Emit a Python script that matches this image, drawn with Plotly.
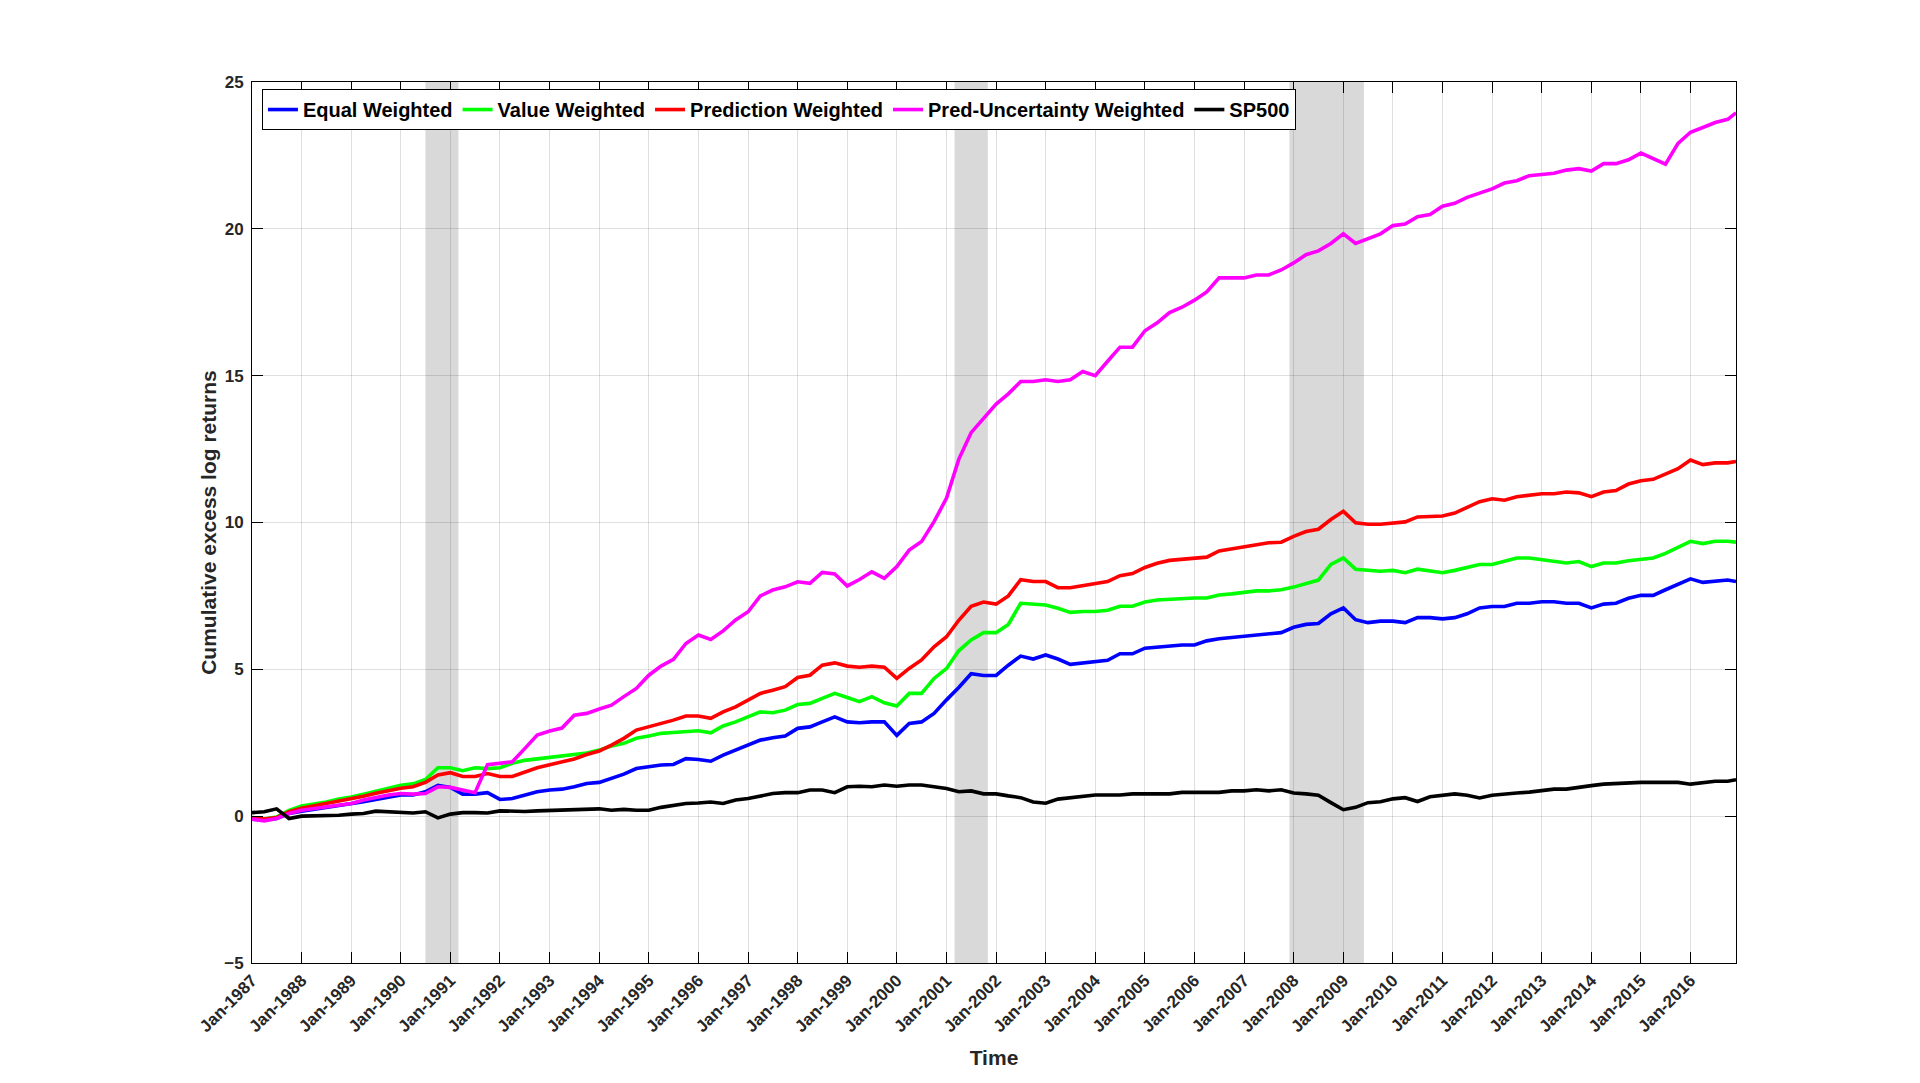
import pandas as pd
import plotly.graph_objects as go

# quarterly observations Jan/Apr/Jul/Oct 1987-2016, plus the last month (Dec 2016)
dates = list(pd.date_range("1987-01-01", "2016-10-01", freq="QS")) + [pd.Timestamp("2016-12-01")]

equal_weighted = [
    -0.10, -0.14, -0.08, 0.09,   # 1987
    0.17, 0.23, 0.28, 0.34,      # 1988
    0.41, 0.49, 0.57, 0.66,      # 1989
    0.72, 0.72, 0.83, 1.05,      # 1990
    0.98, 0.75, 0.75, 0.80,      # 1991
    0.57, 0.60, 0.72, 0.83,      # 1992
    0.89, 0.92, 1.00, 1.11,      # 1993
    1.15, 1.28, 1.43, 1.62,      # 1994
    1.68, 1.74, 1.76, 1.96,      # 1995
    1.93, 1.87, 2.08, 2.25,      # 1996
    2.42, 2.59, 2.67, 2.73,      # 1997
    2.99, 3.04, 3.21, 3.38,      # 1998
    3.21, 3.18, 3.21, 3.21,      # 1999
    2.75, 3.16, 3.21, 3.50,      # 2000
    3.96, 4.38, 4.85, 4.79,      # 2001
    4.79, 5.14, 5.45, 5.35,      # 2002
    5.49, 5.35, 5.17, 5.21,      # 2003
    5.25, 5.31, 5.53, 5.53,      # 2004
    5.72, 5.76, 5.81, 5.83,      # 2005
    5.83, 5.97, 6.04, 6.08,      # 2006
    6.14, 6.18, 6.22, 6.25,      # 2007
    6.43, 6.53, 6.56, 6.89,      # 2008
    7.09, 6.69, 6.59, 6.64,      # 2009
    6.64, 6.59, 6.76, 6.76,      # 2010
    6.72, 6.76, 6.89, 7.09,      # 2011
    7.14, 7.14, 7.25, 7.25,      # 2012
    7.30, 7.30, 7.25, 7.25,      # 2013
    7.09, 7.22, 7.25, 7.42,      # 2014
    7.52, 7.52, 7.71, 7.88,      # 2015
    8.08, 7.96, 8.01, 8.04,      # 2016
    7.99,
]

value_weighted = [
    -0.05, -0.10, -0.03, 0.20,   # 1987
    0.35, 0.40, 0.48, 0.58,      # 1988
    0.65, 0.75, 0.85, 0.95,      # 1989
    1.05, 1.10, 1.25, 1.65,      # 1990
    1.65, 1.55, 1.65, 1.62,      # 1991
    1.65, 1.80, 1.90, 1.95,      # 1992
    2.00, 2.05, 2.10, 2.15,      # 1993
    2.25, 2.39, 2.48, 2.65,      # 1994
    2.73, 2.82, 2.85, 2.87,      # 1995
    2.91, 2.84, 3.07, 3.21,      # 1996
    3.38, 3.55, 3.52, 3.61,      # 1997
    3.80, 3.84, 4.01, 4.18,      # 1998
    4.04, 3.90, 4.07, 3.86,      # 1999
    3.75, 4.18, 4.18, 4.69,      # 2000
    5.03, 5.63, 6.00, 6.25,      # 2001
    6.25, 6.53, 7.25, 7.22,      # 2002
    7.19, 7.08, 6.94, 6.97,      # 2003
    6.97, 7.01, 7.15, 7.15,      # 2004
    7.29, 7.36, 7.39, 7.39,      # 2005
    7.43, 7.43, 7.53, 7.57,      # 2006
    7.61, 7.67, 7.67, 7.71,      # 2007
    7.80, 7.91, 8.04, 8.57,      # 2008
    8.79, 8.41, 8.37, 8.34,      # 2009
    8.37, 8.29, 8.41, 8.34,      # 2010
    8.29, 8.37, 8.46, 8.57,      # 2011
    8.57, 8.67, 8.79, 8.79,      # 2012
    8.74, 8.67, 8.62, 8.67,      # 2013
    8.50, 8.62, 8.62, 8.70,      # 2014
    8.74, 8.79, 8.95, 9.16,      # 2015
    9.36, 9.28, 9.36, 9.36,      # 2016
    9.33,
]

prediction_weighted = [
    -0.05, -0.10, -0.05, 0.15,   # 1987
    0.27, 0.35, 0.42, 0.50,      # 1988
    0.58, 0.68, 0.78, 0.88,      # 1989
    0.95, 1.00, 1.15, 1.40,      # 1990
    1.48, 1.35, 1.35, 1.45,      # 1991
    1.35, 1.35, 1.50, 1.65,      # 1992
    1.75, 1.85, 1.95, 2.10,      # 1993
    2.22, 2.42, 2.65, 2.93,      # 1994
    3.04, 3.16, 3.27, 3.41,      # 1995
    3.41, 3.33, 3.55, 3.72,      # 1996
    3.97, 4.18, 4.29, 4.41,      # 1997
    4.72, 4.80, 5.14, 5.22,      # 1998
    5.11, 5.07, 5.11, 5.07,      # 1999
    4.69, 5.03, 5.32, 5.77,      # 2000
    6.11, 6.67, 7.15, 7.29,      # 2001
    7.22, 7.50, 8.05, 7.99,      # 2002
    7.99, 7.78, 7.78, 7.85,      # 2003
    7.92, 7.99, 8.19, 8.26,      # 2004
    8.47, 8.61, 8.71, 8.75,      # 2005
    8.78, 8.82, 9.03, 9.10,      # 2006
    9.17, 9.24, 9.31, 9.33,      # 2007
    9.53, 9.69, 9.77, 10.10,     # 2008
    10.38, 9.99, 9.94, 9.94,     # 2009
    9.99, 10.02, 10.19, 10.22,   # 2010
    10.22, 10.32, 10.52, 10.71,  # 2011
    10.81, 10.76, 10.88, 10.93,  # 2012
    10.98, 10.98, 11.04, 11.01,  # 2013
    10.88, 11.04, 11.09, 11.31,  # 2014
    11.42, 11.47, 11.64, 11.83,  # 2015
    12.13, 11.97, 12.03, 12.03,  # 2016
    12.08,
]

pred_uncertainty_weighted = [
    -0.10, -0.16, -0.08, 0.09,   # 1987
    0.20, 0.26, 0.32, 0.40,      # 1988
    0.43, 0.55, 0.64, 0.72,      # 1989
    0.77, 0.75, 0.77, 1.00,      # 1990
    0.98, 0.90, 0.80, 1.75,      # 1991
    1.80, 1.85, 2.30, 2.76,      # 1992
    2.90, 3.00, 3.44, 3.50,      # 1993
    3.65, 3.78, 4.07, 4.35,      # 1994
    4.80, 5.11, 5.34, 5.88,      # 1995
    6.17, 6.02, 6.31, 6.68,      # 1996
    6.96, 7.50, 7.70, 7.81,      # 1997
    7.98, 7.93, 8.30, 8.25,      # 1998
    7.84, 8.06, 8.32, 8.10,      # 1999
    8.50, 9.06, 9.35, 10.03,     # 2000
    10.83, 12.15, 13.06, 13.54,  # 2001
    14.03, 14.38, 14.80, 14.80,  # 2002
    14.86, 14.80, 14.86, 15.14,  # 2003
    15.00, 15.49, 15.97, 15.97,  # 2004
    16.53, 16.80, 17.15, 17.33,  # 2005
    17.57, 17.85, 18.33, 18.33,  # 2006
    18.33, 18.43, 18.43, 18.60,  # 2007
    18.84, 19.12, 19.25, 19.50,  # 2008
    19.83, 19.50, 19.66, 19.83,  # 2009
    20.11, 20.16, 20.41, 20.49,  # 2010
    20.77, 20.87, 21.07, 21.23,  # 2011
    21.36, 21.56, 21.64, 21.81,  # 2012
    21.86, 21.89, 22.00, 22.05,  # 2013
    21.97, 22.22, 22.22, 22.35,  # 2014
    22.58, 22.38, 22.20, 22.91,  # 2015
    23.29, 23.45, 23.62, 23.73,  # 2016
    23.95,
]

sp500 = [
    0.12, 0.15, 0.25, -0.08,     # 1987
    0.00, 0.00, 0.02, 0.03,      # 1988
    0.07, 0.09, 0.17, 0.15,      # 1989
    0.11, 0.11, 0.15, -0.06,     # 1990
    0.07, 0.12, 0.12, 0.11,      # 1991
    0.18, 0.16, 0.16, 0.18,      # 1992
    0.20, 0.20, 0.23, 0.25,      # 1993
    0.25, 0.20, 0.23, 0.20,      # 1994
    0.20, 0.30, 0.37, 0.43,      # 1995
    0.45, 0.48, 0.43, 0.55,      # 1996
    0.60, 0.68, 0.77, 0.80,      # 1997
    0.80, 0.89, 0.89, 0.80,      # 1998
    1.00, 1.02, 1.00, 1.06,      # 1999
    1.02, 1.06, 1.06, 1.00,      # 2000
    0.94, 0.83, 0.86, 0.76,      # 2001
    0.76, 0.69, 0.63, 0.48,      # 2002
    0.44, 0.58, 0.63, 0.67,      # 2003
    0.72, 0.72, 0.72, 0.76,      # 2004
    0.76, 0.76, 0.76, 0.81,      # 2005
    0.81, 0.83, 0.81, 0.86,      # 2006
    0.86, 0.90, 0.86, 0.90,      # 2007
    0.79, 0.76, 0.71, 0.46,      # 2008
    0.22, 0.30, 0.46, 0.49,      # 2009
    0.59, 0.63, 0.50, 0.66,      # 2010
    0.71, 0.76, 0.71, 0.62,      # 2011
    0.71, 0.76, 0.79, 0.82,      # 2012
    0.87, 0.92, 0.92, 0.99,      # 2013
    1.04, 1.09, 1.12, 1.15,      # 2014
    1.15, 1.15, 1.15, 1.15,      # 2015
    1.09, 1.15, 1.19, 1.19,      # 2016
    1.24,
]

series_names = ["Equal Weighted", "Value Weighted", "Prediction Weighted",
                "Pred-Uncertainty Weighted", "SP500"]
series_values = [equal_weighted, value_weighted, prediction_weighted,
                 pred_uncertainty_weighted, sp500]
series_colors = ["#0000ff", "#00ff00", "#ff0000", "#ff00ff", "#000000"]

# NBER recessions shaded in grey
recessions = [("1990-07-01", "1991-03-01"),
              ("2001-03-01", "2001-11-01"),
              ("2007-12-01", "2009-06-01")]

font_family = "Arial, Liberation Sans, Helvetica, sans-serif"

fig = go.Figure()
for name, vals, col in zip(series_names, series_values, series_colors):
    fig.add_trace(go.Scatter(x=dates, y=vals, name=name, mode="lines",
                             line=dict(color=col, width=3.6)))

shapes = []
for start, end in recessions:
    shapes.append(dict(type="rect", xref="x", yref="paper", x0=start, x1=end, y0=0, y1=1,
                       fillcolor="#d9d9d9", line=dict(width=0), layer="below"))

grid = "rgba(38,38,38,0.15)"
tick_font = dict(family=font_family, size=17, color="#262626", weight="bold")
title_font = dict(family=font_family, size=21, color="#262626", weight="bold")

fig.update_xaxes(
    range=["1987-01-01", "2016-12-01"], tick0="1987-01-01", dtick="M12", tickformat="%b-%Y",
    tickangle=-45, ticks="inside", ticklen=11, tickcolor="black", showline=True,
    linecolor="black", linewidth=1, mirror="allticks", showgrid=True, gridcolor=grid,
    zeroline=False, tickfont=tick_font,
    title=dict(text="Time", standoff=15, font=title_font),
)
fig.update_yaxes(
    range=[-5, 25], dtick=5, ticks="inside", ticklen=11, tickcolor="black", showline=True,
    linecolor="black", linewidth=1, mirror="allticks", showgrid=True, gridcolor=grid,
    zeroline=False, tickfont=tick_font, ticklabelstandoff=4,
    title=dict(text="Cumulative excess log returns", standoff=1, font=title_font),
)
fig.update_layout(
    width=1920, height=1083,
    margin=dict(l=252, r=184, t=82, b=120),
    paper_bgcolor="white", plot_bgcolor="white",
    shapes=shapes,
    showlegend=True,
    legend=dict(orientation="h", x=0.0067, y=0.992, xanchor="left", yanchor="top",
                bgcolor="white", bordercolor="black", borderwidth=1,
                font=dict(family=font_family, size=20, color="black", weight="bold")),
)
fig.write_html("out.html", config={"displayModeBar": False},
               post_script="document.body.style.margin='0px';")
